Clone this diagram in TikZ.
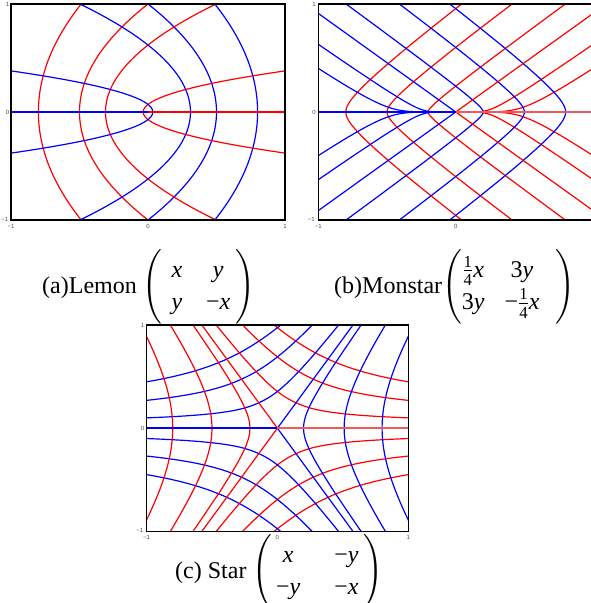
\documentclass[tikz,border=0pt]{standalone}
\usepackage{amsmath}
\usepackage{fontspec}
\setmainfont{Liberation Serif}
\newfontfamily\ticksf{Liberation Sans}
\definecolor{plotred}{RGB}{255,0,0}
\definecolor{plotblue}{RGB}{0,0,255}
\definecolor{axisred}{RGB}{240,90,90}
\renewcommand\arraystretch{1.12}

\ExplSyntaxOn
\fp_new:N \l_ms_x_fp \fp_new:N \l_ms_y_fp
\fp_new:N \l_ms_px_fp \fp_new:N \l_ms_py_fp
\fp_new:N \l_ms_a_fp \fp_new:N \l_ms_b_fp \fp_new:N \l_ms_m_fp
\fp_new:N \l_ms_vx_fp \fp_new:N \l_ms_vy_fp \fp_new:N \l_ms_n_fp
\fp_new:N \l_ms_h_fp \fp_new:N \l_ms_xm_fp \fp_new:N \l_ms_ym_fp
\int_new:N \l_ms_count_int
\tl_new:N \l_ms_path_tl
% major eigenvector of [[x/4, 3y],[3y, -x/4]] at (#1,#2), aligned with (px,py)
\cs_new_protected:Npn \ms_dir:nn #1#2
 {
  \fp_set:Nn \l_ms_a_fp { (#1)/4 }
  \fp_set:Nn \l_ms_b_fp { 3*(#2) }
  \fp_set:Nn \l_ms_m_fp { sqrt(\l_ms_a_fp*\l_ms_a_fp + \l_ms_b_fp*\l_ms_b_fp) }
  \fp_compare:nNnTF \l_ms_a_fp < 0
   {
    \fp_set:Nn \l_ms_vx_fp { \l_ms_b_fp }
    \fp_set:Nn \l_ms_vy_fp { \l_ms_m_fp - \l_ms_a_fp }
   }
   {
    \fp_set:Nn \l_ms_vx_fp { \l_ms_a_fp + \l_ms_m_fp }
    \fp_set:Nn \l_ms_vy_fp { \l_ms_b_fp }
   }
  \fp_set:Nn \l_ms_n_fp { sqrt(\l_ms_vx_fp*\l_ms_vx_fp + \l_ms_vy_fp*\l_ms_vy_fp) }
  \fp_compare:nNnT { \l_ms_vx_fp*\l_ms_px_fp + \l_ms_vy_fp*\l_ms_py_fp } < 0
   { \fp_set:Nn \l_ms_n_fp { -\l_ms_n_fp } }
  \fp_set:Nn \l_ms_vx_fp { \l_ms_vx_fp / \l_ms_n_fp }
  \fp_set:Nn \l_ms_vy_fp { \l_ms_vy_fp / \l_ms_n_fp }
 }
\cs_new_protected:Npn \ms_step:
 {
  \fp_set:Nn \l_ms_h_fp
   { max(0.002, min(0.02, 0.03*sqrt(\l_ms_x_fp*\l_ms_x_fp + \l_ms_y_fp*\l_ms_y_fp))) }
  \ms_dir:nn { \l_ms_x_fp } { \l_ms_y_fp }
  \fp_set:Nn \l_ms_xm_fp { \l_ms_x_fp + 0.5*\l_ms_h_fp*\l_ms_vx_fp }
  \fp_set:Nn \l_ms_ym_fp { \l_ms_y_fp + 0.5*\l_ms_h_fp*\l_ms_vy_fp }
  \fp_set_eq:NN \l_ms_px_fp \l_ms_vx_fp
  \fp_set_eq:NN \l_ms_py_fp \l_ms_vy_fp
  \ms_dir:nn { \l_ms_xm_fp } { \l_ms_ym_fp }
  \fp_set:Nn \l_ms_x_fp { \l_ms_x_fp + \l_ms_h_fp*\l_ms_vx_fp }
  \fp_set:Nn \l_ms_y_fp { \l_ms_y_fp + \l_ms_h_fp*\l_ms_vy_fp }
  \fp_set_eq:NN \l_ms_px_fp \l_ms_vx_fp
  \fp_set_eq:NN \l_ms_py_fp \l_ms_vy_fp
  \tl_put_right:Nx \l_ms_path_tl
   { --( \fp_eval:n { round(\l_ms_x_fp,4) } , \fp_eval:n { round(\l_ms_y_fp,4) } ) }
 }
\cs_new_protected:Npn \ms_trace:nnnnnn #1#2#3#4#5#6
 {
  \fp_set:Nn \l_ms_x_fp {#2}
  \fp_set:Nn \l_ms_y_fp {#3}
  \fp_set:Nn \l_ms_px_fp {#4}
  \fp_set:Nn \l_ms_py_fp {#5}
  \tl_set:Nx \l_ms_path_tl
   { ( \fp_eval:n { \l_ms_x_fp } , \fp_eval:n { \l_ms_y_fp } ) }
  \int_zero:N \l_ms_count_int
  \bool_while_do:nn
   {
    \fp_compare_p:nNn { abs(\l_ms_x_fp) } < { 1.03 }
    && \fp_compare_p:nNn { abs(\l_ms_y_fp) } < { 1.03 }
    && \fp_compare_p:nNn { \l_ms_x_fp*\l_ms_x_fp + \l_ms_y_fp*\l_ms_y_fp } > { 0.0016 }
    && \int_compare_p:nNn \l_ms_count_int < { 1200 }
   }
   { \ms_step: \int_incr:N \l_ms_count_int }
  \tl_put_right:Nn \l_ms_path_tl {#6}
  \tl_gclear_new:c { g_ms_#1_tl }
  \tl_gset_eq:cN { g_ms_#1_tl } \l_ms_path_tl
 }
\cs_new_protected:Npn \__ms_drawaux:nn #1#2 { \draw[#1] #2 ; }
\cs_new_protected:Npn \ms_draw:nn #1#2
 { \exp_args:Nnv \__ms_drawaux:nn {#1} { g_ms_#2_tl } }
\NewDocumentCommand \MsTrace { m m m m m m } { \ms_trace:nnnnnn {#1}{#2}{#3}{#4}{#5}{#6} }
\NewDocumentCommand \MsDraw { m m } { \ms_draw:nn {#1}{#2} }
\ExplSyntaxOff

\tikzset{
  fieldline/.style={line width=1.2pt, line join=round, line cap=round},
  lred/.style={fieldline, draw=plotred},
  lblue/.style={fieldline, draw=plotblue},
  axred/.style={line width=2pt, draw=axisred},
  axblue/.style={line width=2pt, draw=plotblue},
  plotframe/.style={draw=black, line width=1.4pt},
  ticklbl/.style={font=\ticksf\fontsize{6}{7}\selectfont, text=black!70, inner sep=0pt},
  captext/.style={font=\fontsize{24}{29}\selectfont, inner sep=0pt, anchor=base west},
}

\begin{document}
\begin{tikzpicture}[x=1pt,y=1pt]
\useasboundingbox (0,0) rectangle (590,-603);
\fill[white] (0,0) rectangle (590,-603);

% ---------- computations for the monstar ----------
\MsTrace{rhA}{-0.8}{0}{0}{1}{}
\MsTrace{rhB}{-0.5}{0}{0}{1}{}
\MsTrace{rhC}{-0.2}{0}{0}{1}{}
\MsTrace{rpA}{1}{0.404}{-1}{0}{--(0,0)}
\MsTrace{rpB}{1}{0.627}{-1}{0}{--(0,0)}

% ================= (a) Lemon =================
\begin{scope}[shift={(148,-112)},xscale=137,yscale=108]
  \begin{scope}
    \clip (-1,-1) rectangle (1,1);
    \foreach \p in {1.6,1.0,0.62,0.07}{
      \draw[lred] plot[domain=-1.05:1.05,samples=211,variable=\t]
        ({((\t)*(\t)-\p*\p)/(2*\p)},{\t});
      \draw[lblue] plot[domain=-1.05:1.05,samples=211,variable=\t]
        ({(\p*\p-(\t)*(\t))/(2*\p)},{\t});
    }
    \draw[lred] (0,0) -- (1,0);
    \draw[lblue] (-1,0) -- (0,0);
  \end{scope}
  \draw[plotframe] (-1,-1) rectangle (1,1);
\end{scope}
\node[ticklbl,anchor=east] (a1) at (9.5,-4) {1};
\node[ticklbl,anchor=east] (a0) at (9.5,-112) {0};
\node[ticklbl,anchor=east] (am) at (8.5,-219) {−1};
\node[ticklbl,anchor=north] (bxm) at (11,-224) {−1};
\node[ticklbl,anchor=north] (bx0) at (148,-224) {0};
\node[ticklbl,anchor=north] (bx1) at (285,-224) {1};

% ================= (b) Monstar =================
\begin{scope}[shift={(455.7,-112)},xscale=137.4,yscale=108]
  \begin{scope}
    \clip (-1,-1) rectangle (1,1);
    \foreach \s in {1,-1}{
      \begin{scope}[yscale=\s]
        \foreach \n in {rhA,rhB,rhC,rpA,rpB}{\MsDraw{lred}{\n}}
        \begin{scope}[xscale=-1]
          \foreach \n in {rhA,rhB,rhC,rpA,rpB}{\MsDraw{lblue}{\n}}
        \end{scope}
        \draw[lred] (0,0) -- (1.2,1.0955);
        \draw[lblue] (0,0) -- (-1.2,1.0955);
      \end{scope}
    }
    \draw[axred] (0,0) -- (1,0);
    \draw[axblue] (-1,0) -- (0,0);
  \end{scope}
  \draw[plotframe] (-1,-1) rectangle (1,1);
\end{scope}
\node[ticklbl,anchor=east] (b1) at (316,-4) {1};
\node[ticklbl,anchor=east] (b0) at (316,-112) {0};
\node[ticklbl,anchor=east] (bm) at (315,-219) {−1};
\node[ticklbl,anchor=north] (bbm) at (318.3,-224) {−1};
\node[ticklbl,anchor=north] (bb0) at (455.7,-224) {0};

% ================= (c) Star =================
\begin{scope}[shift={(277.4,-428.2)},xscale=130.9,yscale=103.2]
  \begin{scope}
    \clip (-1,-1) rectangle (1,1);
    \foreach \s in {1,-1}{
      \begin{scope}[yscale=\s]
        \foreach \cc in {0.68,0.406,0.15}{
          \pgfmathsetmacro\amin{asin(\cc/5.2)/1.5}
          \pgfmathsetmacro\amax{120-\amin}
          \pgfmathsetmacro\bmin{60+\amin}
          \pgfmathsetmacro\bmax{180-\amin}
          \draw[lred] plot[domain=\amin:\amax,samples=240,variable=\f]
            ({\f}:{(\cc/sin(1.5*\f))^(2/3)});
          \draw[lblue] plot[domain=\bmin:\bmax,samples=240,variable=\f]
            ({\f}:{(\cc/(-cos(1.5*\f)))^(2/3)});
        }
      \end{scope}
    }
    \foreach \xo in {0.8,0.5,0.21}{
      \pgfmathsetmacro\bb{acos((\xo/3)^1.5)/1.5}
      \draw[lred] plot[domain=-\bb:\bb,samples=240,variable=\f]
        ({180+\f}:{\xo/(cos(1.5*\f))^(2/3)});
    }
    \foreach \xo in {0.2,0.51,0.8}{
      \pgfmathsetmacro\bb{acos((\xo/3)^1.5)/1.5}
      \draw[lblue] plot[domain=-\bb:\bb,samples=240,variable=\f]
        ({\f}:{\xo/(cos(1.5*\f))^(2/3)});
    }
    \draw[lred] (0,0) -- (120:2);
    \draw[lred] (0,0) -- (240:2);
    \draw[lblue] (0,0) -- (60:2);
    \draw[lblue] (0,0) -- (300:2);
    \draw[axred] (0,0) -- (1,0);
    \draw[axblue] (-1,0) -- (0,0);
  \end{scope}
  \draw[plotframe] (-1,-1) rectangle (1,1);
\end{scope}
\node[ticklbl,anchor=east] (c1) at (144.5,-325) {1};
\node[ticklbl,anchor=east] (c0) at (144.5,-428.2) {0};
\node[ticklbl,anchor=east] (cm) at (143.5,-530.5) {−1};
\node[ticklbl,anchor=north] (cbm) at (146.5,-535) {−1};
\node[ticklbl,anchor=north] (cb0) at (277.4,-535) {0};
\node[ticklbl,anchor=north] (cb1) at (408.3,-535) {1};

% ================= captions =================
\node[captext] (capa) at (42,-293)
  {(a)Lemon $\left(\begin{tabular}{@{\hspace{9pt}}c@{\hspace{24pt}}c@{\hspace{5pt}}}\textit{x} & \textit{y}\\ \textit{y} & −\textit{x}\end{tabular}\right)$};
\node[captext] (capb) at (334,-293)
  {(b)Monstar$\left(\begin{tabular}{@{}c@{\hspace{20pt}}c@{\hspace{16pt}}}$\frac{\text{1}}{\text{4}}$\textit{x} & 3\textit{y}\\ 3\textit{y} & −$\frac{\text{1}}{\text{4}}$\textit{x}\end{tabular}\right)$};
\node[captext] (capc) at (175,-578)
  {(c) Star\ $\left(\begin{tabular}{@{\hspace{4pt}}c@{\hspace{34pt}}c@{\hspace{5pt}}}\textit{x} & −\textit{y}\\ −\textit{y} & −\textit{x}\end{tabular}\right)$};
\end{tikzpicture}
\end{document}
